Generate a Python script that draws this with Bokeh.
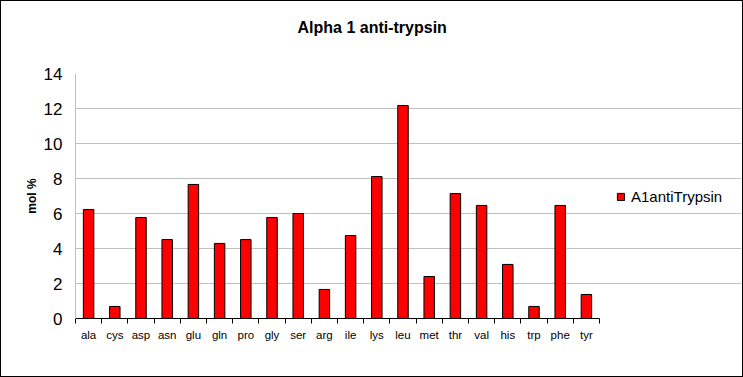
from bokeh.plotting import figure
from bokeh.models import FixedTicker, Range1d, Legend, LegendItem, ColumnDataSource, Title
from bokeh.embed import file_html
from bokeh.resources import INLINE

categories = ["ala", "cys", "asp", "asn", "glu", "gln", "pro", "gly", "ser", "arg",
              "ile", "lys", "leu", "met", "thr", "val", "his", "trp", "phe", "tyr"]
values = [6.23, 0.69, 5.77, 4.51, 7.66, 4.29, 4.51, 5.77, 6.0, 1.66,
          4.74, 8.11, 12.17, 2.4, 7.14, 6.46, 3.09, 0.69, 6.46, 1.37]
series_name = "A1antiTrypsin"
y_ticks = [0, 2, 4, 6, 8, 10, 12, 14]

n = len(categories)
xs = [i + 0.5 for i in range(n)]
src = ColumnDataSource(dict(x=xs, top=values, cat=categories))

FONT = "Liberation Sans"

PLOT_W = 524      # width of the bar area in px
FRAME_W = 666     # frame extends to the right to host the legend
x_end = n * FRAME_W / PLOT_W

p = figure(frame_width=FRAME_W, frame_height=245, output_backend="svg", toolbar_location=None,
           x_range=Range1d(0, x_end), y_range=Range1d(0, 14),
           min_border_left=74, min_border_right=1, min_border_top=72, min_border_bottom=58,
           title="Alpha 1 anti-trypsin")
p.styles = {"border": "1px solid black", "margin": "0px"}

p.title.text_font = FONT
p.title.text_font_size = "16px"
p.title.text_font_style = "bold"
p.title.text_color = "black"
p.title.align = "left"
p.title.offset = 222
# spacer between title and plot area
p.add_layout(Title(text=" ", text_font_size="19px"), "above")

r = p.vbar(x="x", top="top", width=0.4, bottom=0, source=src,
           fill_color="#FF0000", line_color="black", line_width=1)

p.outline_line_color = None
p.xgrid.grid_line_color = None
p.ygrid.grid_line_color = "#C0C0C0"
p.ygrid.ticker = FixedTicker(ticks=y_ticks)
p.ygrid.bounds = (0, n)

# x axis: labels at centres, tick marks at category boundaries
p.xaxis.bounds = (0, n)
p.xaxis.ticker = FixedTicker(ticks=xs, minor_ticks=list(range(n + 1)))
p.xaxis.major_label_overrides = {x: c for x, c in zip(xs, categories)}
p.xaxis.major_tick_line_color = None
p.xaxis.major_tick_out = 0
p.xaxis.major_tick_in = 0
p.xaxis.minor_tick_line_color = "black"
p.xaxis.minor_tick_out = 5
p.xaxis.minor_tick_in = 0
p.xaxis.axis_line_color = "black"
p.xaxis.major_label_text_font = FONT
p.xaxis.major_label_text_font_size = "11.5px"
p.xaxis.major_label_text_color = "black"
p.xaxis.major_label_standoff = 5

p.yaxis.ticker = FixedTicker(ticks=y_ticks)
p.yaxis.axis_line_color = "#C0C0C0"
p.yaxis.major_tick_line_color = None
p.yaxis.major_tick_out = 0
p.yaxis.major_tick_in = 0
p.yaxis.minor_tick_line_color = None
p.yaxis.major_label_text_font = FONT
p.yaxis.major_label_text_font_size = "17px"
p.yaxis.major_label_text_color = "black"
p.yaxis.major_label_standoff = 13
p.yaxis.axis_label = "mol %"
p.yaxis.axis_label_text_font = FONT
p.yaxis.axis_label_text_font_size = "12px"
p.yaxis.axis_label_text_font_style = "bold"
p.yaxis.axis_label_text_color = "black"
p.yaxis.axis_label_standoff = 2

legend = Legend(items=[LegendItem(label=series_name, renderers=[r])],
                location=(541, 113), border_line_color=None, background_fill_alpha=0,
                glyph_width=9, glyph_height=9, label_standoff=6, margin=0, padding=10,
                label_text_font=FONT, label_text_font_size="15px", label_text_color="black")
p.add_layout(legend, "center")

open("out.html", "w").write(file_html(p, INLINE))
